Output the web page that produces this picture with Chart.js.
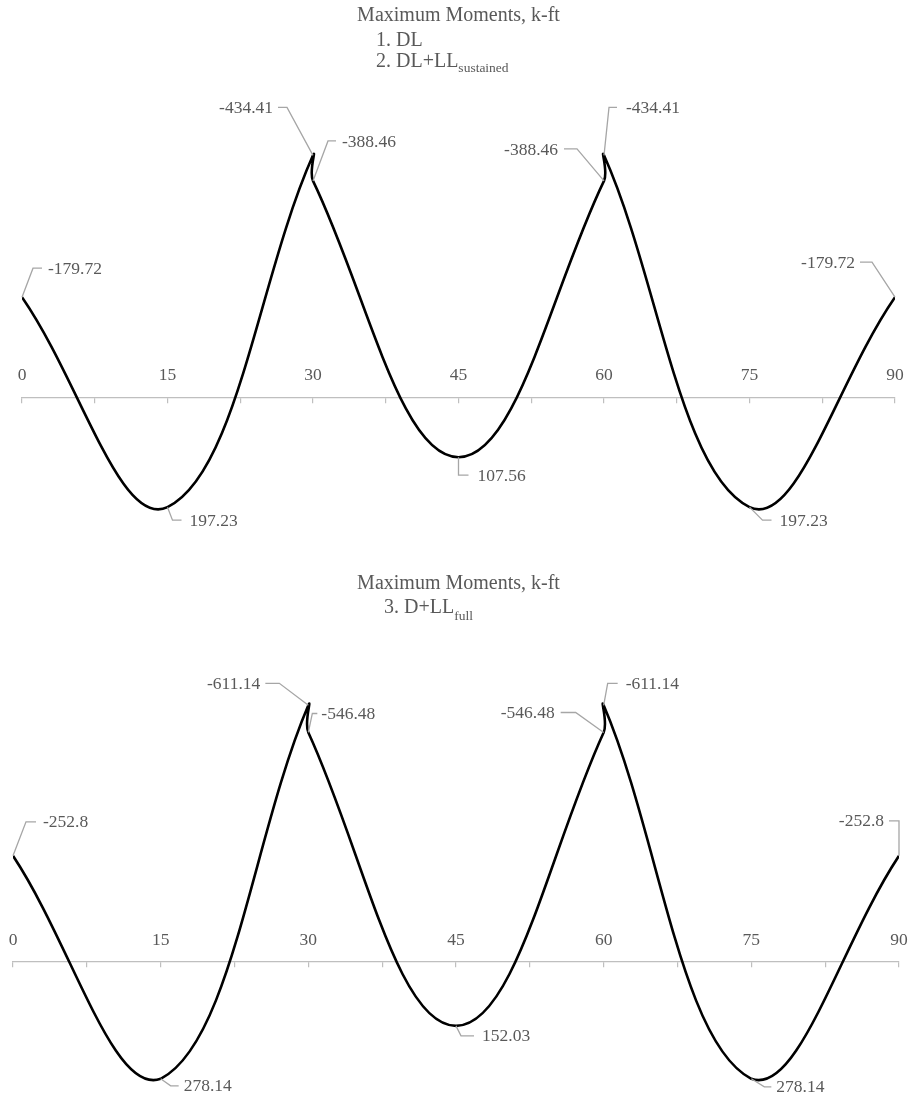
<!DOCTYPE html>
<html>
<head>
<meta charset="utf-8">
<script src="https://cdn.jsdelivr.net/npm/chart.js@4.4.1/dist/chart.umd.min.js"></script>
<style>
  html, body { margin: 0; padding: 0; background: #fff; }
  #wrap { position: relative; width: 908px; height: 1103px; }
  .panel { position: absolute; left: 0; width: 908px; }
  canvas { display: block; }
</style>
</head>
<body>
<div id="wrap">
  <div class="panel" style="top:0;height:550px"><canvas id="c1" width="908" height="550"></canvas></div>
  <div class="panel" style="top:550px;height:553px"><canvas id="c2" width="908" height="553"></canvas></div>
</div>
<script>
// Stations along the three 30 ft spans, ft (interior supports listed twice for the moment jump)
const stations = [0, 15, 30, 30, 45, 60, 60, 75, 90];

// Moments, k-ft (negative = hogging, drawn upward)
const momentsSustained = [-179.72, 197.23, -434.41, -388.46, 107.56, -388.46, -434.41, 197.23, -179.72];
const momentsFull = [-252.8, 278.14, -611.14, -546.48, 152.03, -546.48, -611.14, 278.14, -252.8];

// Axis ticks: marks every 7.5 ft, numbers every 15 ft
const tickValues = [0, 7.5, 15, 22.5, 30, 37.5, 45, 52.5, 60, 67.5, 75, 82.5, 90];
const tickLabels = ['0', '15', '30', '45', '60', '75', '90'];

const SERIF = '"Liberation Serif", "Times New Roman", serif';
const TEXT_COLOR = '#595959';
const LEADER_COLOR = '#a6a6a6';

// Title block drawn at the top of each panel (supports a subscript tail)
const titlePlugin = {
  id: 'panelTitle',
  afterDraw(chart, args, opts) {
    const ctx = chart.ctx;
    ctx.save();
    ctx.fillStyle = TEXT_COLOR;
    ctx.textBaseline = 'alphabetic';
    opts.lines.forEach(line => {
      ctx.font = '20px ' + SERIF;
      ctx.textAlign = line.align || 'left';
      ctx.fillText(line.text, line.x, line.y);
      if (line.sub) {
        const w = ctx.measureText(line.text).width;
        ctx.font = '13.5px ' + SERIF;
        ctx.textAlign = 'left';
        ctx.fillText(line.sub, line.x + w, line.y + line.subDy);
      }
    });
    ctx.restore();
  }
};

// Value callouts: a gray leader with an elbow, then the value text
const calloutPlugin = {
  id: 'callouts',
  afterDatasetsDraw(chart, args, opts) {
    const {ctx} = chart;
    const meta = chart.getDatasetMeta(0);
    const values = chart.data.datasets[0].data;
    ctx.save();
    ctx.font = '17.5px ' + SERIF;
    ctx.textBaseline = 'middle';
    opts.placements.forEach((p, i) => {
      const pt = meta.data[i];
      const px = pt.x, py = pt.y;
      ctx.strokeStyle = LEADER_COLOR;
      ctx.lineWidth = 1.3;
      ctx.beginPath();
      ctx.moveTo(px, py);
      ctx.lineTo(px + p.ex, py + p.ey);
      ctx.lineTo(px + p.hx, py + p.ey);
      ctx.stroke();
      ctx.fillStyle = TEXT_COLOR;
      ctx.textAlign = p.tx < 0 ? 'right' : 'left';
      ctx.fillText(String(values[i].y), px + p.tx, py + p.ey + 1);
    });
    ctx.restore();
  }
};

function makePanel(canvasId, moments, frame, titleLines, placements) {
  const canvas = document.getElementById(canvasId);
  const padTop = frame.zeroY + frame.yMin * frame.ppu;
  const padBottom = canvas.height - (frame.zeroY + frame.yMax * frame.ppu);
  return new Chart(canvas, {
    type: 'line',
    data: {
      datasets: [{
        data: stations.map((x, i) => ({x: x, y: moments[i]})),
        borderColor: '#000000',
        borderWidth: 2.6,
        borderJoinStyle: 'round',
        tension: 0.4,
        pointRadius: 0,
        fill: false
      }]
    },
    options: {
      responsive: false,
      animation: false,
      events: [],
      layout: {
        padding: {left: frame.left, right: canvas.width - frame.right, top: padTop, bottom: padBottom}
      },
      plugins: {
        legend: {display: false},
        tooltip: {enabled: false},
        title: {display: false},
        panelTitle: {lines: titleLines},
        callouts: {placements: placements}
      },
      scales: {
        x: {
          type: 'linear',
          min: 0,
          max: 90,
          position: {y: 0},
          afterBuildTicks: s => { s.ticks = tickValues.map(v => ({value: v})); },
          grid: {display: true, drawOnChartArea: false, drawTicks: true, tickLength: 5, color: '#bfbfbf', lineWidth: 1.2},
          border: {display: true, color: '#bfbfbf', width: 1.3},
          ticks: {
            autoSkip: false,
            maxRotation: 0,
            padding: -37,
            color: TEXT_COLOR,
            font: {family: SERIF, size: 17.5},
            callback: v => (tickLabels.includes(String(v)) ? String(v) : '')
          }
        },
        y: {
          type: 'linear',
          display: false,
          reverse: true,
          min: frame.yMin,
          max: frame.yMax
        }
      }
    },
    plugins: [titlePlugin, calloutPlugin]
  });
}

// Panel 1: DL and DL + LL sustained
makePanel('c1', momentsSustained,
  {left: 22, right: 895, zeroY: 397.3, ppu: 0.557, yMin: -540, yMax: 260},
  [
    {text: 'Maximum Moments, k-ft', x: 458.5, y: 21, align: 'center'},
    {text: '1. DL', x: 376, y: 46},
    {text: '2. DL+LL', sub: 'sustained', x: 376, y: 67, subDy: 5}
  ],
  [
    {ex: 11, ey: -29, hx: 20, tx: 26},
    {ex: 5, ey: 13, hx: 14, tx: 22},
    {ex: -26, ey: -48, hx: -35, tx: -40},
    {ex: 15, ey: -40, hx: 23, tx: 29},
    {ex: 0, ey: 18, hx: 10, tx: 19},
    {ex: -27, ey: -32, hx: -40, tx: -46},
    {ex: 5, ey: -48, hx: 13, tx: 22},
    {ex: 13, ey: 13, hx: 22, tx: 30},
    {ex: -23, ey: -35, hx: -35, tx: -40}
  ]);

// Panel 2: D + LL full
makePanel('c2', momentsFull,
  {left: 13, right: 899, zeroY: 412, ppu: 0.42, yMin: -700, yMax: 320},
  [
    {text: 'Maximum Moments, k-ft', x: 458.5, y: 39, align: 'center'},
    {text: '3. D+LL', sub: 'full', x: 384, y: 63, subDy: 7}
  ],
  [
    {ex: 13, ey: -34, hx: 23, tx: 30},
    {ex: 10, ey: 7, hx: 18, tx: 23},
    {ex: -29, ey: -22, hx: -43, tx: -48},
    {ex: 4, ey: -19, hx: 9, tx: 13},
    {ex: 5, ey: 10, hx: 18, tx: 26},
    {ex: -28, ey: -20, hx: -43, tx: -49},
    {ex: 4, ey: -22, hx: 14, tx: 22},
    {ex: 13, ey: 8, hx: 20, tx: 25},
    {ex: 0, ey: -35, hx: -10, tx: -15}
  ]);
</script>
</body>
</html>
